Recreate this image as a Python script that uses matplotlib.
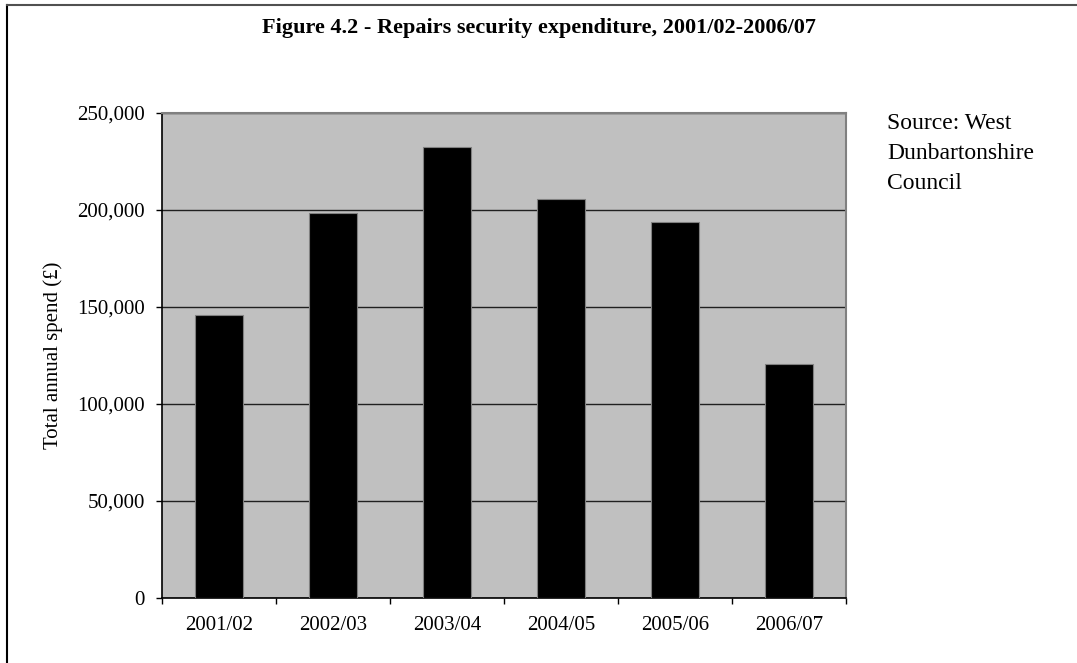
import matplotlib.pyplot as plt
from matplotlib.lines import Line2D
from matplotlib.ticker import FuncFormatter

# Données
annees = ['2001/02', '2002/03', '2003/04', '2004/05', '2005/06', '2006/07']
depenses = [145700, 198600, 232300, 205800, 194000, 120400]

plt.rcParams['font.family'] = ['Liberation Serif', 'DejaVu Serif']

fig = plt.figure(figsize=(10.77, 6.63), dpi=100)
ax = fig.add_axes([0.1504, 0.098, 0.6351, 0.7316])

positions = range(len(annees))
ax.bar(positions, depenses, width=0.42, color='black', edgecolor='#808080', linewidth=0.8, zorder=3)

ax.set_facecolor('#C0C0C0')
ax.set_xlim(-0.5, len(annees) - 0.5)
ax.set_ylim(0, 250000)
ax.set_yticks(range(0, 250001, 50000))
ax.yaxis.set_major_formatter(FuncFormatter(lambda v, p: f'{int(v):,}'))
ax.grid(axis='y', color='#202020', linewidth=1.0, zorder=1)

# Graduations en x entre les catégories
ax.set_xticks([i - 0.5 for i in range(len(annees) + 1)])
ax.set_xticklabels([])
ax.set_xticks(list(positions), minor=True)
ax.set_xticklabels(annees, minor=True, fontsize=15)
ax.tick_params(axis='x', which='minor', length=0, pad=13)
ax.tick_params(axis='x', which='major', length=4.5, width=1, color='black')
ax.tick_params(axis='y', length=4.5, width=1, labelsize=15, pad=8)

for cote in ('top', 'right'):
    ax.spines[cote].set_color('#808080')
    ax.spines[cote].set_linewidth(1.5)
for cote in ('left', 'bottom'):
    ax.spines[cote].set_color('black')
    ax.spines[cote].set_linewidth(1.2)

ax.set_ylabel('Total annual spend (£)', fontsize=15, labelpad=10)

fig.text(0.5, 1 - 28 / 663, 'Figure 4.2 - Repairs security expenditure, 2001/02-2006/07',
         ha='center', va='center', fontsize=16, fontweight='bold')
fig.text(887 / 1077, 1 - 113 / 663, 'Source: West\nDunbartonshire\nCouncil',
         ha='left', va='top', fontsize=17, linespacing=1.55)

# Cadre de la figure
fig.add_artist(Line2D([7 / 1077, 7 / 1077], [0, 1 - 5 / 663], color='black', linewidth=1.5))
fig.add_artist(Line2D([7 / 1077, 1], [1 - 5 / 663, 1 - 5 / 663], color='#505050', linewidth=1.5))

fig.savefig('out.png', dpi=100)
